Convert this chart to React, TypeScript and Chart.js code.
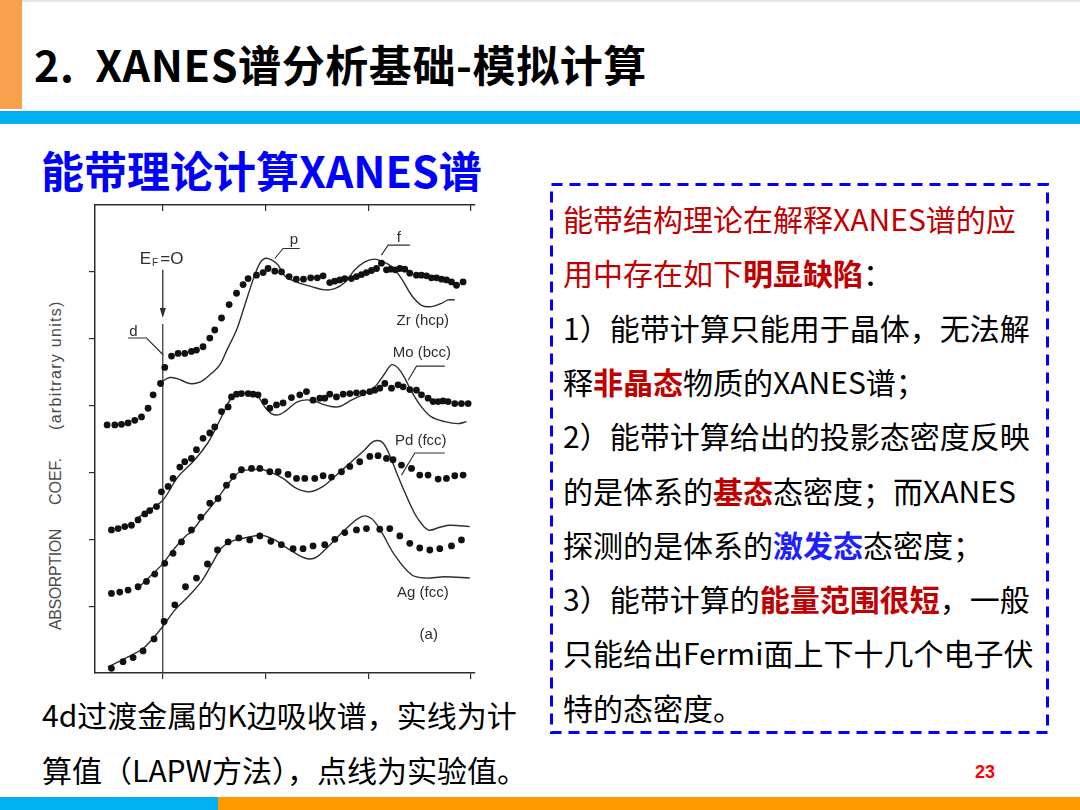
import React, { useEffect, useRef } from "react";
import { Chart, registerables } from "chart.js";
Chart.register(...registerables);

// ---------- data (E in eV relative to E_F, absorption in arbitrary units, curves offset) ----------
const xTicks = [0, 10, 20, 30];
const yTicks = [1, 2, 3, 4, 5, 6];

const zrExp = [[-5.42,3.71],[-4.67,3.71],[-4.02,3.72],[-3.38,3.74],[-2.73,3.78],[-2.07,3.83],[-1.43,3.96],[-0.94,4.16],[-0.22,4.33],[0.19,4.57],[0.85,4.74],[1.49,4.78],[2.14,4.78],[2.79,4.81],[3.28,4.83],[3.92,4.88],[4.58,5.01],[5.06,5.13],[5.72,5.31],[6.46,5.51],[7.18,5.68],[7.82,5.81],[8.31,5.9],[9.12,5.95],[9.77,5.99],[10.25,6.05],[10.91,6.01],[11.56,6.0],[12.3,5.93],[13.0,5.89],[13.7,5.89],[14.4,5.91],[15.05,5.91],[15.61,5.94],[16.26,5.84],[16.75,5.86],[17.23,5.88],[17.72,5.9],[18.37,5.9],[18.86,5.93],[19.35,5.96],[19.83,5.99],[20.32,6.02],[20.81,6.05],[21.29,6.13],[21.78,6.03],[22.2,6.04],[22.65,6.03],[23.08,6.05],[23.56,6.04],[24.05,5.98],[24.7,5.95],[25.19,5.95],[25.68,5.94],[26.16,5.91],[26.65,5.91],[27.14,5.89],[27.62,5.88],[28.11,5.85],[28.6,5.8],[29.24,5.85]];
const zrCalc = [[0.03,4.37],[0.68,4.42],[1.46,4.4],[2.63,4.33],[3.6,4.35],[4.58,4.46],[5.55,4.61],[6.33,4.86],[7.18,5.13],[7.98,5.5],[8.79,5.88],[9.45,6.13],[9.93,6.2],[10.58,6.18],[11.23,6.1],[11.88,5.94],[13.17,5.84],[14.48,5.78],[15.77,5.73],[16.75,5.75],[17.72,5.84],[18.7,6.03],[19.67,6.15],[20.64,6.19],[21.29,6.16],[22.27,6.08],[23.24,5.9],[24.22,5.65],[25.19,5.5],[26.16,5.48],[27.14,5.53],[27.78,5.58],[28.43,5.58]];

const moExp = [[-5.0,2.14],[-4.35,2.16],[-3.7,2.19],[-3.05,2.21],[-2.41,2.29],[-1.75,2.38],[-1.27,2.43],[-0.61,2.49],[-0.13,2.71],[0.52,2.79],[1.0,2.91],[1.66,3.08],[2.14,3.16],[2.79,3.21],[3.28,3.34],[3.92,3.51],[4.58,3.59],[5.06,3.68],[5.72,3.91],[6.36,3.98],[6.69,4.13],[7.18,4.17],[7.66,4.18],[8.31,4.18],[8.79,4.17],[9.28,4.16],[9.93,4.06],[10.42,3.96],[11.07,4.01],[11.71,4.04],[12.53,4.12],[13.34,4.16],[13.99,4.21],[14.63,4.08],[15.29,4.11],[15.77,4.11],[16.26,4.17],[16.91,4.13],[17.56,4.17],[18.21,4.18],[18.86,4.19],[19.5,4.19],[20.16,4.21],[20.64,4.23],[21.13,4.26],[21.62,4.33],[22.27,4.26],[22.91,4.31],[23.4,4.28],[24.05,4.24],[24.7,4.23],[25.19,4.16],[25.83,4.11],[26.32,4.06],[26.81,4.06],[27.29,4.07],[27.78,4.06],[28.43,4.03],[29.08,4.03],[29.73,4.03]];
const moCalc = [[-2.43,2.32],[-1.27,2.44],[0.03,2.59],[1.46,2.93],[3.12,3.19],[4.38,3.44],[5.06,3.63],[5.87,3.88],[6.52,4.08],[7.18,4.16],[8.31,4.18],[9.28,4.13],[9.93,3.98],[10.58,3.88],[11.23,3.86],[11.88,3.91],[13.17,4.06],[14.48,4.08],[15.77,4.01],[17.07,3.98],[18.37,4.08],[19.67,4.18],[20.64,4.28],[21.62,4.48],[22.27,4.61],[22.91,4.56],[23.56,4.41],[24.22,4.21],[25.19,3.98],[26.16,3.83],[27.46,3.76],[28.75,3.73],[29.57,3.76]];

const pdExp = [[-5.0,1.19],[-4.19,1.21],[-3.38,1.24],[-2.41,1.29],[-1.59,1.37],[-0.78,1.48],[0.19,1.64],[1.0,1.79],[1.82,1.96],[2.79,2.14],[3.7,2.33],[4.58,2.54],[5.38,2.61],[6.2,2.81],[6.85,2.94],[7.66,3.04],[8.64,3.06],[9.45,3.06],[10.42,3.01],[11.23,3.01],[12.2,2.97],[13.02,2.91],[13.83,2.91],[14.8,2.91],[15.61,2.95],[16.43,2.93],[17.4,3.01],[18.21,3.09],[19.18,3.16],[20.16,3.24],[20.96,3.25],[21.78,3.21],[22.42,3.19],[23.24,3.11],[24.22,3.06],[25.02,2.96],[25.83,2.96],[26.81,2.9],[27.62,2.91],[28.43,2.95],[29.24,2.96]];
const pdCalc = [[-2.43,1.27],[-1.27,1.44],[0.03,1.64],[1.17,1.87],[2.31,2.06],[2.79,2.11],[3.92,2.34],[5.23,2.59],[6.52,2.86],[7.5,3.01],[8.47,3.04],[9.77,3.04],[10.71,2.99],[11.71,2.91],[13.02,2.76],[14.31,2.71],[15.61,2.79],[16.75,2.94],[18.37,3.16],[19.67,3.34],[20.48,3.46],[21.29,3.46],[21.94,3.31],[22.91,2.94],[23.89,2.59],[24.7,2.34],[25.83,2.14],[26.97,2.18],[27.95,2.21],[29.89,2.19]];

const agExp = [[-5.0,0.07],[-3.87,0.17],[-2.89,0.23],[-1.92,0.33],[-0.85,0.51],[0.13,0.77],[1.17,1.02],[2.21,1.29],[3.28,1.42],[4.35,1.63],[5.33,1.84],[6.36,1.96],[7.4,2.02],[8.47,1.99],[9.45,2.05],[10.52,1.97],[11.55,1.92],[12.69,1.86],[13.66,1.86],[14.63,1.9],[15.77,1.92],[16.75,2.0],[17.72,2.1],[18.86,2.14],[19.83,2.16],[21.13,2.15],[22.1,2.16],[23.08,2.05],[24.05,1.94],[25.02,1.87],[26.0,1.84],[26.97,1.86],[28.11,1.9],[29.08,1.99]];
const agCalc = [[-5.36,0.09],[-3.38,0.24],[-1.75,0.39],[-0.13,0.67],[1.17,0.94],[2.46,1.14],[3.77,1.37],[4.74,1.62],[5.72,1.87],[6.69,1.97],[7.98,2.02],[9.61,2.06],[10.91,1.99],[11.88,1.89],[13.83,1.72],[14.8,1.72],[15.77,1.84],[17.72,2.14],[19.35,2.34],[20.32,2.31],[21.29,2.11],[22.59,1.76],[24.22,1.47],[25.51,1.42],[27.46,1.44],[29.89,1.42]];

const efLine = [[0, 5.22], [0, 0]];
const efArrow = [[0, 6.03], [0, 5.31]];

const curveLabels = [
  { text: "Zr (hcp)", x: 25.32, y: 5.26 },
  { text: "Mo (bcc)", x: 25.22, y: 4.79 },
  { text: "Pd (fcc)", x: 25.12, y: 3.47 },
  { text: "Ag (fcc)", x: 25.32, y: 1.2 },
  { text: "(a)", x: 25.9, y: 0.57 },
  { text: "d", x: -2.87, y: 5.1 },
  { text: "p", x: 12.76, y: 6.48 },
  { text: "f", x: 22.98, y: 6.51 },
];
const leaders = [
  [[-3.38, 5.01], [-1.59, 5.01], [0.03, 4.76]],
  [[13.34, 6.35], [11.71, 6.35], [10.91, 6.2]],
  [[24.05, 6.4], [21.94, 6.4], [21.29, 6.25]],
  [[27.46, 4.59], [24.7, 4.59], [23.89, 4.38]],
  [[27.46, 3.29], [24.54, 3.29], [23.24, 2.96]],
];
const efLabelPos = { x: -2.24, y: 6.19 };

const X_MIN = -6.6, X_MAX = 30.4, Y_MIN = 0, Y_MAX = 7;

// ---------- slide text ----------
type Seg = [string, "r" | "R" | "k" | "B"];
const boxLines: Seg[][] = [
  [["能带结构理论在解释XANES谱的应", "r"]],
  [["用中存在如下", "r"], ["明显缺陷", "R"], ["：", "k"]],
  [["1）能带计算只能用于晶体，无法解", "k"]],
  [["释", "k"], ["非晶态", "R"], ["物质的XANES谱；", "k"]],
  [["2）能带计算给出的投影态密度反映", "k"]],
  [["的是体系的", "k"], ["基态", "R"], ["态密度；而XANES", "k"]],
  [["探测的是体系的", "k"], ["激发态", "B"], ["态密度；", "k"]],
  [["3）能带计算的", "k"], ["能量范围很短", "R"], ["，一般", "k"]],
  [["只能给出Fermi面上下十几个电子伏", "k"]],
  [["特的态密度。", "k"]],
];
const captionLines = ["4d过渡金属的K边吸收谱，实线为计", "算值（LAPW方法），点线为实验值。"];

const INK = "#2e2e2e";
const DOT = "#111111";
const toPts = (a: number[][]) => a.map(([x, y]) => ({ x, y }));

const annotate = {
  id: "annotate",
  afterDatasetsDraw(chart: any) {
    const { ctx } = chart;
    const sx = chart.scales.x, sy = chart.scales.y;
    const px = (v: number) => sx.getPixelForValue(v);
    const py = (v: number) => sy.getPixelForValue(v);
    ctx.save();
    ctx.strokeStyle = INK;
    ctx.fillStyle = INK;
    ctx.lineWidth = 1.1;
    for (const l of leaders) {
      ctx.beginPath();
      l.forEach(([a, b]: number[], i: number) => (i ? ctx.lineTo(px(a), py(b)) : ctx.moveTo(px(a), py(b))));
      ctx.stroke();
    }
    // arrow at E_F
    const ax = px(efArrow[0][0]);
    const ay0 = py(efArrow[0][1]);
    const ay1 = py(efArrow[1][1]);
    ctx.lineWidth = 1.3;
    ctx.beginPath();
    ctx.moveTo(ax, ay0);
    ctx.lineTo(ax, ay1 - 6);
    ctx.stroke();
    ctx.beginPath();
    ctx.moveTo(ax, ay1);
    ctx.lineTo(ax - 3, ay1 - 10);
    ctx.lineTo(ax + 3, ay1 - 10);
    ctx.closePath();
    ctx.fill();
    // labels
    ctx.textBaseline = "middle";
    ctx.textAlign = "center";
    ctx.font = '15px "Liberation Sans", Arial, sans-serif';
    for (const t of curveLabels) ctx.fillText(t.text, px(t.x), py(t.y));
    // E_F = O
    ctx.textAlign = "left";
    let x0 = px(efLabelPos.x);
    const y0 = py(efLabelPos.y);
    ctx.font = '17px "Liberation Sans", Arial, sans-serif';
    ctx.fillText("E", x0, y0);
    x0 += ctx.measureText("E").width + 1;
    ctx.font = '10px "Liberation Sans", Arial, sans-serif';
    ctx.fillText("F", x0, y0 + 4);
    x0 += ctx.measureText("F").width + 2;
    ctx.font = '17px "Liberation Sans", Arial, sans-serif';
    ctx.fillText("=O", x0, y0);
    ctx.restore();
  },
};

function XanesChart() {
  const ref = useRef<HTMLCanvasElement>(null);
  useEffect(() => {
    const lineDs = (d: number[][]) => ({
      data: toPts(d), showLine: true, borderColor: INK, borderWidth: 1.4,
      pointRadius: 0, tension: 0.35, fill: false, order: 2,
    });
    const dotDs = (d: number[][]) => ({
      data: toPts(d), showLine: false, pointRadius: 3.4,
      pointBackgroundColor: DOT, pointBorderWidth: 0, order: 1,
    });
    const axisX = (position: string, tickLength: number) => ({
      type: "linear", axis: "x", position, min: X_MIN, max: X_MAX,
      afterBuildTicks: (s: any) => { s.ticks = xTicks.map((v) => ({ value: v })); },
      afterFit: (s: any) => { s.height = 6; },
      ticks: { display: false },
      grid: { drawOnChartArea: false, drawTicks: true, tickLength, color: INK, lineWidth: 1.2 },
      border: { display: true, color: INK, width: 1.5 },
    });
    const chart = new Chart(ref.current as HTMLCanvasElement, {
      type: "scatter",
      data: {
        datasets: [
          lineDs(zrCalc), dotDs(zrExp),
          lineDs(moCalc), dotDs(moExp),
          lineDs(pdCalc), dotDs(pdExp),
          lineDs(agCalc), dotDs(agExp),
          { data: toPts(efLine), showLine: true, borderColor: INK, borderWidth: 1.2, pointRadius: 0, tension: 0, order: 3 },
        ] as any,
      },
      options: {
        responsive: false,
        animation: false,
        devicePixelRatio: 1,
        events: [],
        layout: { padding: { left: 4, top: 4, right: 10, bottom: 6 } },
        plugins: { legend: { display: false }, tooltip: { enabled: false } },
        scales: {
          x: axisX("bottom", 6),
          x2: axisX("top", -6),
          y: {
            type: "linear", position: "left", min: Y_MIN, max: Y_MAX,
            afterBuildTicks: (s: any) => { s.ticks = yTicks.map((v) => ({ value: v })); },
            afterFit: (s: any) => { s.width = 6; },
            ticks: { display: false },
            grid: { drawOnChartArea: false, drawTicks: true, tickLength: 6, color: INK, lineWidth: 1.2 },
            border: { display: true, color: INK, width: 1.5 },
          },
        } as any,
      },
      plugins: [annotate],
    } as any);
    return () => chart.destroy();
  }, []);
  return (
    <canvas ref={ref} width={400} height={490} style={{ position: "absolute", left: 85, top: 195 }} />
  );
}

const segColor: Record<string, React.CSSProperties> = {
  r: { color: "#C00000", fontWeight: 400 },
  R: { color: "#C00000", fontWeight: 700 },
  k: { color: "#000000", fontWeight: 400 },
  B: { color: "#1F1FFF", fontWeight: 700 },
};

export default function App() {
  const cjk = '"Noto Sans CJK SC", "Noto Sans", sans-serif';
  return (
    <div style={{ position: "absolute", left: 0, top: 0, width: 1080, height: 810, background: "#fff", overflow: "hidden", fontFamily: cjk }}>
      <div style={{ position: "absolute", left: 0, top: 0, width: 1080, height: 2, background: "#e4e4e4" }} />
      <div style={{ position: "absolute", left: 0, top: 0, width: 22, height: 109, background: "#F9A04C" }} />
      <div style={{ position: "absolute", left: 34, top: 36, fontSize: 43, fontWeight: 700, lineHeight: "54px", whiteSpace: "pre", color: "#000", letterSpacing: 0.6 }}>
        2.  XANES谱分析基础-模拟计算
      </div>
      <div style={{ position: "absolute", left: 0, top: 111, width: 1080, height: 13, background: "#00B0F0" }} />
      <div style={{ position: "absolute", left: 41, top: 144, fontSize: 43, fontWeight: 700, lineHeight: "50px", whiteSpace: "pre", color: "#0000FF" }}>
        能带理论计算XANES谱
      </div>

      <XanesChart />
      <div
        style={{
          position: "absolute", left: 47, top: 630, transformOrigin: "0 0", transform: "rotate(-90deg)",
          whiteSpace: "pre", fontFamily: '"Liberation Sans", Arial, sans-serif', fontSize: 16, lineHeight: "18px", color: "#4a4a4a",
        }}
      >
        <span style={{ letterSpacing: -0.4 }}>ABSORPTION</span>
        <span style={{ marginLeft: 24 }}>COEF.</span>
        <span style={{ marginLeft: 28, letterSpacing: 1.3 }}>(arbitrary units)</span>
      </div>

      <svg style={{ position: "absolute", left: 549, top: 182 }} width={502} height={554}>
        <rect x={2.5} y={2.5} width={496} height={548} fill="none" stroke="#0000FF" strokeWidth={3} strokeDasharray="11 7" />
      </svg>
      {boxLines.map((line, i) => (
        <div key={i} style={{ position: "absolute", left: 563, top: 191 + i * 54.3, fontSize: 30, lineHeight: "54px", whiteSpace: "pre" }}>
          {line.map(([t, s], j) => (
            <span key={j} style={segColor[s]}>{t}</span>
          ))}
        </div>
      ))}

      {captionLines.map((t, i) => (
        <div key={i} style={{ position: "absolute", left: 42, top: 687 + i * 55, fontSize: 30, lineHeight: "54px", whiteSpace: "pre", color: "#000" }}>
          {t}
        </div>
      ))}

      <div style={{ position: "absolute", left: 975, top: 760, fontSize: 18, fontWeight: 700, lineHeight: "24px", color: "#FF0000", fontFamily: '"Liberation Sans", Arial, sans-serif' }}>
        23
      </div>
      <div style={{ position: "absolute", left: 0, top: 797, width: 218, height: 13, background: "#00B0F0" }} />
      <div style={{ position: "absolute", left: 218, top: 797, width: 862, height: 13, background: "#FF9900" }} />
    </div>
  );
}
